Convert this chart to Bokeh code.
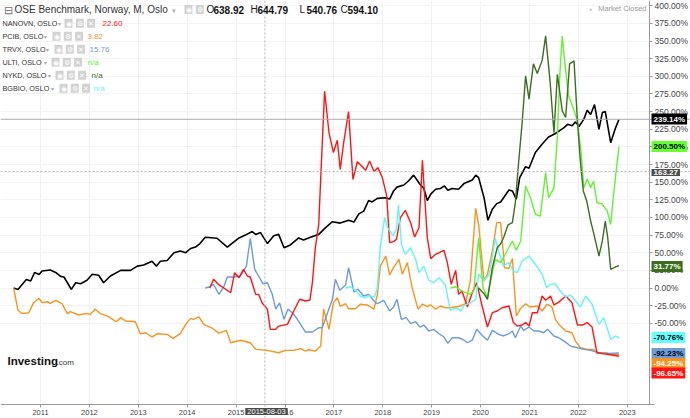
from bokeh.plotting import figure
from bokeh.models import Range1d, FixedTicker, PrintfTickFormatter, Label, Span, BoxAnnotation
from bokeh.embed import file_html
from bokeh.resources import INLINE

# ---------------- data (percent change, time in decimal years) ----------------
OSE_T = [2010.45, 2010.54, 2010.71, 2010.80, 2010.88, 2010.97, 2011.03, 2011.20, 2011.31, 2011.41, 2011.48, 2011.63, 2011.72, 2011.82, 2011.95, 2012.06, 2012.19, 2012.29, 2012.43, 2012.64, 2012.84, 2012.98, 2013.11, 2013.28, 2013.37, 2013.45, 2013.59, 2013.73, 2013.86, 2013.97, 2014.07, 2014.17, 2014.26, 2014.37, 2014.61, 2014.82, 2015.06, 2015.19, 2015.33, 2015.40, 2015.50, 2015.64, 2015.77, 2015.87, 2015.98, 2016.11, 2016.28, 2016.38, 2016.52, 2016.69, 2016.83, 2016.97, 2017.13, 2017.30, 2017.41, 2017.51, 2017.61, 2017.71, 2017.78, 2017.89, 2018.06, 2018.14, 2018.22, 2018.29, 2018.43, 2018.53, 2018.63, 2018.76, 2018.84, 2018.91, 2018.98, 2019.08, 2019.18, 2019.26, 2019.33, 2019.42, 2019.55, 2019.66, 2019.83, 2019.90, 2019.96, 2020.07, 2020.15, 2020.24, 2020.33, 2020.41, 2020.47, 2020.58, 2020.65, 2020.73, 2020.80, 2020.92, 2020.99, 2021.12, 2021.26, 2021.39, 2021.53, 2021.63, 2021.70, 2021.78, 2021.87, 2021.94, 2022.01, 2022.11, 2022.18, 2022.25, 2022.33, 2022.42, 2022.49, 2022.55, 2022.66, 2022.76, 2022.83]
OSE_V = [0, -2, 12, 10, 22, 19, 24, 25.5, 22, 16.5, 15.6, -2, 7.5, 6, 11, 19.4, 18, 7.5, 17, 25, 25, 31, 32.6, 38, 31, 38, 39, 50, 52.5, 50, 56, 58, 63, 72, 70.5, 58, 71, 75, 80, 76, 78.5, 63, 74, 76, 57, 61, 71, 68, 72, 76, 85.5, 94, 92, 96, 93.6, 105, 109, 124, 122, 127, 128, 126, 137.6, 143, 146, 152, 160, 147, 141, 124, 133, 140, 141, 144.7, 138.6, 141, 140, 148, 153, 160, 156.5, 128, 96, 111.6, 119.6, 122, 128, 139, 137.6, 125.8, 156.5, 172, 169.8, 192, 204, 214, 219, 223.7, 227, 232, 230, 235.5, 229, 239, 252, 246, 260, 225, 248.7, 250, 206, 227, 239.14]

NANOVN_T = [2014.46, 2014.54, 2014.65, 2014.75, 2014.89, 2014.97, 2015.06, 2015.15, 2015.23, 2015.29, 2015.40, 2015.46, 2015.53, 2015.64, 2015.70, 2015.81, 2015.87, 2016.05, 2016.18, 2016.30, 2016.42, 2016.51, 2016.56, 2016.62, 2016.69, 2016.74, 2016.81, 2016.90, 2016.99, 2017.07, 2017.13, 2017.20, 2017.30, 2017.39, 2017.48, 2017.65, 2017.73, 2017.82, 2017.90, 2017.99, 2018.08, 2018.14, 2018.22, 2018.28, 2018.36, 2018.46, 2018.57, 2018.65, 2018.74, 2018.81, 2018.91, 2018.98, 2019.08, 2019.25, 2019.32, 2019.40, 2019.49, 2019.55, 2019.62, 2019.73, 2019.83, 2019.92, 2020.03, 2020.14, 2020.24, 2020.34, 2020.44, 2020.58, 2020.67, 2020.75, 2020.85, 2020.92, 2020.99, 2021.06, 2021.16, 2021.26, 2021.33, 2021.43, 2021.50, 2021.60, 2021.74, 2021.87, 2021.98, 2022.08, 2022.18, 2022.28, 2022.38, 2022.52, 2022.69, 2022.83]
NANOVN_V = [0, 12.3, 4.3, 0, -6.7, 21.7, 14.6, 26.5, 17, 15.6, -9, -9, -21, -30, -58.6, -58.6, -54, -51.5, -32.6, -16, -18.4, -17, 7.5, 57, 90, 170.6, 279, 220, 192, 209.5, 168, 206, 250, 154, 179, 167, 180, 165, 170.6, 156.5, 130.5, 64.3, 65.7, 69, 99.7, 110, 92.6, 72.3, 85.5, 181, 71.3, 41.6, 47.8, 53.5, 35.9, 5.2, 25, -9, -4.3, -27, -6.6, 7.5, -25.5, -55.3, -35, -32.6, -28, -25.5, -49, -54, -52.5, -49, -54, -35, -35, -11.3, -17.4, -11.3, -24, -20, -11.3, -21, -52.5, -52.5, -49, -55.3, -91.8, -93.3, -95, -96.65]

PCIB_T = [2010.45, 2010.54, 2010.63, 2010.76, 2010.86, 2010.97, 2011.03, 2011.14, 2011.20, 2011.31, 2011.44, 2011.55, 2011.61, 2011.78, 2011.92, 2012.02, 2012.12, 2012.23, 2012.40, 2012.55, 2012.64, 2012.74, 2012.94, 2013.04, 2013.15, 2013.28, 2013.39, 2013.59, 2013.71, 2013.86, 2013.97, 2014.07, 2014.13, 2014.24, 2014.34, 2014.51, 2014.65, 2014.80, 2014.89, 2015.09, 2015.29, 2015.40, 2015.64, 2015.87, 2016.01, 2016.18, 2016.32, 2016.42, 2016.49, 2016.62, 2016.73, 2016.79, 2016.90, 2016.99, 2017.07, 2017.13, 2017.24, 2017.30, 2017.44, 2017.54, 2017.68, 2017.82, 2017.89, 2017.95, 2018.06, 2018.14, 2018.22, 2018.33, 2018.40, 2018.50, 2018.60, 2018.72, 2018.81, 2018.91, 2018.98, 2019.08, 2019.18, 2019.28, 2019.38, 2019.59, 2019.69, 2019.79, 2019.90, 2019.96, 2020.07, 2020.14, 2020.24, 2020.33, 2020.41, 2020.49, 2020.58, 2020.65, 2020.73, 2020.82, 2020.92, 2021.01, 2021.16, 2021.26, 2021.36, 2021.46, 2021.53, 2021.60, 2021.74, 2021.87, 2021.94, 2022.04, 2022.18, 2022.31, 2022.38, 2022.55, 2022.69, 2022.83]
PCIB_V = [0, -31.6, -36.4, -35, -20.8, -14.6, -20.8, -19.4, -21.7, -17.4, -22.3, -36.4, -33.6, -38.3, -36.4, -37.3, -30.2, -36.4, -41, -47.8, -42, -46.8, -47.8, -64.8, -63.4, -69.5, -64.8, -65.7, -71.3, -64.8, -51.5, -43, -44.4, -41, -51.5, -57, -64, -60, -77.6, -74, -77.6, -87, -88.4, -91.8, -88.4, -88.4, -86, -89.4, -87.5, -89.4, -82.3, -30, -58.6, -20.8, -13.8, -26, -22.3, -29.4, -29.4, -23, -24, -30, -9, 31, 45.4, 18.4, 28.8, 40.7, 19.4, 35.9, 0.4, -30, -23, -26.5, -24, -30, -25.5, -28, -28, -25.5, -22.3, 10, 113, 90, 10, 19.4, 52.5, 92.6, 92.6, 28.8, 28, 42, -39.7, -28.8, -22.3, -27, -25.5, -32.6, -23, -27, -44.4, -51.5, -61, -63.4, -75.2, -84.7, -87, -87, -91.8, -91.8, -94, -94.25]

TRVX_T = [2014.37, 2014.46, 2014.54, 2014.65, 2014.75, 2014.82, 2014.95, 2015.09, 2015.21, 2015.29, 2015.38, 2015.46, 2015.55, 2015.64, 2015.74, 2015.81, 2015.89, 2015.98, 2016.06, 2016.15, 2016.25, 2016.42, 2016.56, 2016.69, 2016.76, 2016.86, 2016.97, 2017.03, 2017.12, 2017.24, 2017.30, 2017.41, 2017.49, 2017.61, 2017.71, 2017.82, 2017.89, 2018.02, 2018.14, 2018.22, 2018.29, 2018.38, 2018.48, 2018.57, 2018.67, 2018.76, 2018.84, 2018.94, 2019.04, 2019.15, 2019.25, 2019.33, 2019.42, 2019.55, 2019.66, 2019.73, 2019.83, 2019.92, 2020.03, 2020.14, 2020.24, 2020.37, 2020.47, 2020.58, 2020.65, 2020.71, 2020.82, 2020.88, 2020.99, 2021.09, 2021.19, 2021.29, 2021.37, 2021.50, 2021.60, 2021.70, 2021.84, 2021.98, 2022.11, 2022.25, 2022.42, 2022.62, 2022.83]
TRVX_V = [0, 1.8, 5, -9, 1.8, 15.6, 15.6, 17, 31, 70.5, 26.5, 17, 6, 7.5, -9, -30, -21, -44.4, -30, -35, -44, -62.4, -62.4, -56.3, -56.3, -37.3, -16, 12.3, -3.3, 4.3, 28.8, -5.7, -1.8, -11.3, -9, -18.4, -22.3, -17.4, -32.6, -27, -16, -44.4, -42, -50.6, -47.8, -55.3, -52.5, -61, -58.6, -64.8, -69.5, -78.4, -70.5, -70.5, -73.8, -77.6, -74, -58.6, -67, -74, -60, -65.7, -68, -64.8, -61, -70.5, -53.9, -60, -55.3, -61, -61, -63.4, -58.6, -68, -70.5, -75, -82.3, -84.7, -87, -88.4, -91.8, -92.6, -92.23]

ULTI_T = [2019.38, 2019.49, 2019.59, 2019.69, 2019.79, 2019.86, 2019.96, 2020.05, 2020.14, 2020.24, 2020.30, 2020.41, 2020.54, 2020.65, 2020.73, 2020.82, 2020.92, 2021.02, 2021.12, 2021.22, 2021.33, 2021.39, 2021.50, 2021.57, 2021.62, 2021.67, 2021.74, 2021.80, 2021.89, 2021.98, 2022.06, 2022.11, 2022.18, 2022.25, 2022.31, 2022.38, 2022.49, 2022.59, 2022.66, 2022.72, 2022.83]
ULTI_V = [0, 1.8, -3, -6.6, -9, -4.3, 71.3, 0.4, -13.8, 21.7, 40.7, 35.9, 52.5, 66.7, 53.5, 66.7, 144.7, 128, 104.5, 102, 163.5, 128, 142, 215, 303, 357, 307.8, 272, 255.7, 237, 189.6, 142, 154, 142, 151.8, 121, 119, 109, 90, 133, 200.5]

NYKD_T = [2019.96, 2020.07, 2020.14, 2020.24, 2020.34, 2020.41, 2020.47, 2020.56, 2020.65, 2020.71, 2020.78, 2020.85, 2020.92, 2020.99, 2021.08, 2021.16, 2021.26, 2021.33, 2021.42, 2021.50, 2021.57, 2021.67, 2021.74, 2021.82, 2021.91, 2021.98, 2022.04, 2022.10, 2022.17, 2022.25, 2022.31, 2022.42, 2022.49, 2022.55, 2022.60, 2022.66, 2022.76, 2022.83]
NYKD_V = [0, -8, -16, 28.8, 57, 62.8, 71.3, 89.4, 92.6, 121, 180, 234.5, 300.7, 267.7, 317.7, 304, 323, 357.4, 293.6, 220, 303, 251, 241.6, 317.7, 322, 237, 180, 137.6, 123.4, 95, 78.4, 45.4, 66.7, 95, 71.3, 26.5, 29.8, 31.77]

BGBIO_T = [2017.24, 2017.34, 2017.44, 2017.54, 2017.65, 2017.73, 2017.83, 2017.89, 2017.95, 2018.04, 2018.10, 2018.21, 2018.28, 2018.32, 2018.38, 2018.46, 2018.57, 2018.67, 2018.74, 2018.84, 2018.94, 2019.04, 2019.15, 2019.28, 2019.38, 2019.52, 2019.59, 2019.66, 2019.79, 2019.90, 2019.96, 2020.07, 2020.17, 2020.24, 2020.30, 2020.37, 2020.46, 2020.58, 2020.67, 2020.75, 2020.85, 2020.99, 2021.12, 2021.26, 2021.35, 2021.43, 2021.53, 2021.63, 2021.74, 2021.84, 2021.94, 2022.04, 2022.15, 2022.28, 2022.42, 2022.52, 2022.66, 2022.76, 2022.83]
BGBIO_V = [0, 1.8, -3, -11.3, -13.8, -11.3, -12.8, 0.4, 59.6, 99.7, 85.5, 73.8, 83.3, 118, 62, 47.8, 57, 40.7, 21.7, 31, 11, 7.5, 14.6, 4.3, -31.6, -28, -33, -25, -21, -16, 19.4, 11, 18.4, 44, 70.5, 52.5, 31, 35.9, 24, 21.7, 38.3, 45.4, 33.6, 19.4, 0.4, 5.2, 6, -4.3, -12.8, -10, -18.4, -27, -11.3, -23, -51.5, -42, -72.8, -68, -70.76]

YEAR_TICKS = list(range(2011, 2024))
PCT_TICKS = list(range(-50, 401, 25))

LEGEND_NAMES = ["NANOVN, OSLO", "PCIB, OSLO", "TRVX, OSLO", "ULTI, OSLO", "NYKD, OSLO", "BGBIO, OSLO"]
LEGEND_VALUES = ["22.60", "3.82", "15.76", "n/a", "n/a", "n/a"]
OHLC = [("O", "638.92"), ("H", "644.79"), ("L", "540.76"), ("C", "594.10")]
LAST_LABELS = ["239.14%", "200.50%", "163.27", "31.77%", "-70.76%", "-92.23%", "-94.25%", "-96.65%"]
LAST_VALUES = [239.14, 200.50, None, 31.77, -70.76, -92.23, -94.25, -96.65]
CROSS_DATE = "2015-08-03"
CROSS_YEAR = 2015.59
CROSS_PCT = 165.0

# ---------------- styling / layout ----------------
C_OSE, C_NAN, C_PCIB, C_TRVX = "#000000", "#ff1414", "#f7941d", "#6b9bd8"
C_ULTI, C_NYKD, C_BGBIO = "#62f232", "#3b6e1f", "#62f5f5"
FONT = "Liberation Sans"

W, H = 690, 418
AX_X, AX_Y = 649, 404  # pixel position of the right axis line / bottom axis line


def px2x(px):
    return 2011 + (px - 40) / 48.9


def py2y(py):
    return (287.5 - py) / 0.7055


# The frame covers the whole canvas; the axes sit in their side panels but are
# drawn at fixed locations, so the last-value boxes can overlap the axis area.
p = figure(width=W, height=H, output_backend="svg", toolbar_location=None,
           x_range=Range1d(px2x(0), px2x(W)), y_range=Range1d(py2y(H), py2y(0)),
           y_axis_location="right", min_border=0,
           min_border_left=0, min_border_top=0, min_border_right=0, min_border_bottom=0)
p.outline_line_color = None
p.background_fill_color = "white"
p.border_fill_color = "white"

ya = p.yaxis[0]
ya.ticker = FixedTicker(ticks=PCT_TICKS)
ya.formatter = PrintfTickFormatter(format="%.2f%%")
ya.fixed_location = px2x(AX_X)
ya.bounds = (py2y(AX_Y), py2y(0))
xa = p.xaxis[0]
xa.ticker = FixedTicker(ticks=YEAR_TICKS)
xa.formatter = PrintfTickFormatter(format="%d")
xa.fixed_location = py2y(AX_Y)
xa.bounds = (px2x(0), px2x(AX_X + 5))
for ax, fs in ((ya, "8.5px"), (xa, "7.5px")):
    ax.major_label_text_font = FONT
    ax.major_label_text_font_size = fs
    ax.major_label_text_color = "#444444"
    ax.axis_line_color = "#9a9a9a"
    ax.major_tick_line_color = "#9a9a9a"
    ax.major_tick_in = 0
    ax.major_tick_out = 3
    ax.minor_tick_line_color = None
    ax.major_label_standoff = 2
p.xgrid.grid_line_color = "#f1f1f1"
p.ygrid.grid_line_color = "#f3f3f3"

# keep the grid inside the plotting area
p.add_layout(BoxAnnotation(left=px2x(AX_X), fill_color="white", fill_alpha=1, line_color=None, level="underlay"))
p.add_layout(BoxAnnotation(top=py2y(AX_Y), fill_color="white", fill_alpha=1, line_color=None, level="underlay"))

# reference lines
p.add_layout(Span(location=LAST_VALUES[0], dimension="width", line_color="#ababab", line_width=1))
p.add_layout(Span(location=CROSS_PCT, dimension="width", line_color="#b0b0b0", line_width=1, line_dash="2 2"))
p.add_layout(Span(location=CROSS_YEAR, dimension="height", line_color="#b0b0b0", line_width=1, line_dash="2 2"))

# series
p.line(OSE_T, OSE_V, line_color=C_OSE, line_width=1.6)
p.line(PCIB_T, PCIB_V, line_color=C_PCIB, line_width=1.4)
p.line(TRVX_T, TRVX_V, line_color=C_TRVX, line_width=1.4)
p.line(NANOVN_T, NANOVN_V, line_color=C_NAN, line_width=1.4)
p.line(BGBIO_T, BGBIO_V, line_color=C_BGBIO, line_width=1.4)
p.line(ULTI_T, ULTI_V, line_color=C_ULTI, line_width=1.4)
p.line(NYKD_T, NYKD_V, line_color=C_NYKD, line_width=1.4)


def lab(px, py, text, size, color, bold=False, align="left", bg=None, pad=(0, 0)):
    kw = dict(x=px2x(px), y=py2y(py), text=text, text_font=FONT, text_font_size=f"{size}px",
              text_color=color, text_align=align, text_baseline="middle",
              text_font_style="bold" if bold else "normal")
    if bg is not None:
        kw.update(background_fill_color=bg, padding=pad)
    p.add_layout(Label(**kw))


def icons(px, py, n=3):
    glyphs = ["◉", "⚙", "✕"]
    for i in range(n):
        lab(px + i * 11.3, py, glyphs[i], 7, "#ffffff", align="center", bg="#d2d2d2", pad=(1, 1))

# title row
lab(3, 9, "⊟", 11, "#777777")
lab(14, 9, "OSE Benchmark, Norway, M, Oslo", 10, "#333333")
lab(171, 9.5, "▾", 7, "#aaaaaa")
icons(188, 9, 2)
ohlc_x = [206, 250, 299, 340]
for (k, v), x in zip(OHLC, ohlc_x):
    lab(x, 9, k, 10, "#222222")
    lab(x + 7, 9, v, 10, "#111111", bold=True)

# legend rows
row_colors = [C_NAN, C_PCIB, C_TRVX, C_ULTI, C_NYKD, C_BGBIO]
caret_x = [57, 43, 45, 43, 47, 50]
icon_x = [68, 56, 58, 55, 59, 63]
val_x = [102, 87, 89, 87, 91, 93]
for i, name in enumerate(LEGEND_NAMES):
    py = 22.7 + 13 * i
    lab(2, py, name, 7.2, "#333333")
    lab(caret_x[i], py + 0.5, "▾", 6, "#aaaaaa")
    icons(icon_x[i], py)
    lab(val_x[i], py, LEGEND_VALUES[i], 8, row_colors[i])

# market status
lab(590, 8, "●", 5, "#bbbbbb", align="center")
lab(646, 8, "Market Closed", 7.5, "#9a9a9a", align="right")

# logo
lab(7, 360, "Investing", 11.5, "#111111", bold=True)
lab(56, 362, ".com", 8, "#333333")

# last-value boxes on the right axis
box_y = [118.5, 146, 172, 266, 337, 353, 363, 372.5]
box_bg = ["#000000", "#66ff33", "#4d4d4d", C_NYKD, "#66ffff", C_TRVX, C_PCIB, C_NAN]
box_fg = ["#ffffff", "#000000", "#ffffff", "#ffffff", "#000000", "#000000", "#ffffff", "#ffffff"]
for t, py, bg, fg in zip(LAST_LABELS, box_y, box_bg, box_fg):
    lab(651, py, t, 8, fg, bold=True, bg=bg, pad=(2, 1))

# crosshair date box
lab(266, 411, CROSS_DATE, 7.5, "#ffffff", align="center", bg="#4a4a4a", pad=(2, 1))

open("out.html", "w").write(file_html(p, INLINE))
